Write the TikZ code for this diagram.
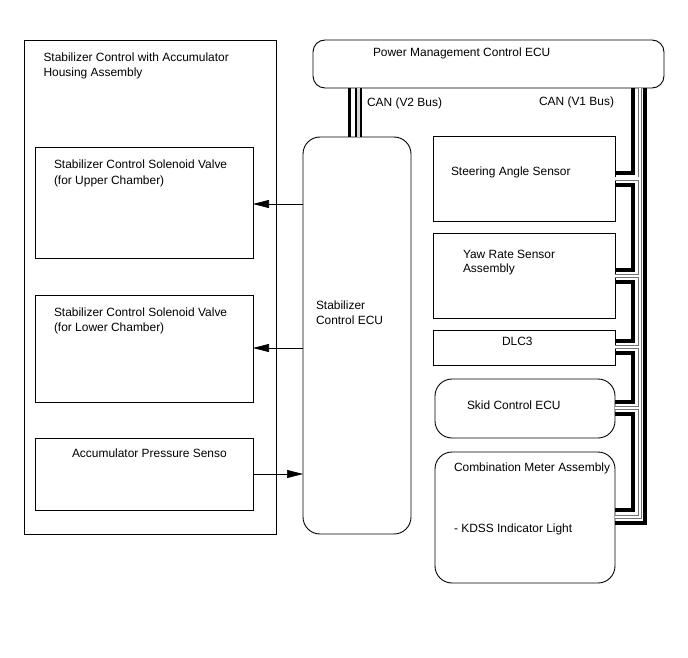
\documentclass[tikz,border=0pt]{standalone}
\usepackage{fontspec}
\setmainfont{Liberation Sans}
\usetikzlibrary{arrows.meta}
\begin{document}
\begin{tikzpicture}[x=1pt,y=-1pt,
 box/.style={draw, line width=0.9pt, outer sep=0pt, inner sep=0pt, anchor=north west},
 rbox/.style={box, rounded corners=17pt},
 lbl/.style={anchor=base west, inner sep=0pt, outer sep=0pt, font=\fontsize{11.95}{15}\selectfont},
 sig/.style={line width=0.7pt, -{Triangle[length=16pt,width=8pt]}},
 blk/.style={line width=3.5pt},
 gborder/.style={draw=black!55, line width=4pt},
 gcore/.style={draw=white, line width=2.4pt},
]
\useasboundingbox (0,0) rectangle (688,658);

% boxes
\node[box, minimum width=252pt, minimum height=494pt] (big) at (24,40) {};
\node[box, minimum width=218pt, minimum height=111pt] (sv1) at (35,147) {};
\node[box, minimum width=218pt, minimum height=107pt] (sv2) at (35,295) {};
\node[box, minimum width=218pt, minimum height=72pt] (aps) at (35,438) {};
\node[rbox, minimum width=108pt, minimum height=397pt] (ecu) at (303,137) {};
\node[box, rounded corners=12pt, minimum width=351pt, minimum height=48pt] (pm) at (313,40) {};
\node[box, minimum width=182pt, minimum height=85pt] (sas) at (433,136) {};
\node[box, minimum width=182pt, minimum height=85pt] (yaw) at (433,233) {};
\node[box, minimum width=182pt, minimum height=35pt] (dlc) at (433,330) {};
\node[rbox, minimum width=180pt, minimum height=59pt] (skid) at (435,379) {};
\node[rbox, minimum width=180pt, minimum height=131pt] (comb) at (435,452) {};

% labels
\node[lbl] (tbig1) at (43.5,61.5) {Stabilizer Control with Accumulator};
\node[lbl] (tbig2) at (43.5,76.5) {Housing Assembly};
\node[lbl] (tsv1a) at (54,168.5) {Stabilizer Control Solenoid Valve};
\node[lbl] (tsv1b) at (54,184) {(for Upper Chamber)};
\node[lbl] (tsv2a) at (54,316) {Stabilizer Control Solenoid Valve};
\node[lbl] (tsv2b) at (54,331.5) {(for Lower Chamber)};
\node[lbl] (taps) at (72,457) {Accumulator Pressure Senso};
\node[lbl] (tecu1) at (316,309) {Stabilizer};
\node[lbl] (tecu2) at (316,324) {Control ECU};
\node[lbl] (tpm) at (373,56.5) {Power Management Control ECU};
\node[lbl] (tv2) at (367,107) {CAN (V2 Bus)};
\node[lbl] (tv1) at (539,105.5) {CAN (V1 Bus)};
\node[lbl] (tsas) at (451,175.5) {Steering Angle Sensor};
\node[lbl] (tyaw1) at (463,258) {Yaw Rate Sensor};
\node[lbl] (tyaw2) at (463,272.5) {Assembly};
\node[lbl] (tdlc) at (502,345) {DLC3};
\node[lbl] (tskid) at (467,409.5) {Skid Control ECU};
\node[lbl] (tcomb1) at (454,471.5) {Combination Meter Assembly};
\node[lbl] (tcomb2) at (454,532) {- KDSS Indicator Light};

% signal arrows
\draw[sig] (ecu.west |- 0,204) -- (sv1.east |- 0,204);
\draw[sig] (ecu.west |- 0,348) -- (sv2.east |- 0,348);
\draw[sig] (aps.east |- 0,474) -- (ecu.west |- 0,474);

% CAN V2
\coordinate (v2a) at (349.5,0);
\coordinate (v2b) at (358.5,0);
\draw[blk] (pm.south -| v2a) -- (ecu.north -| v2a);
\draw[draw=black, line width=6.5pt] (pm.south -| v2b) -- (ecu.north -| v2b);
\draw[draw=gray!30, line width=3.5pt] (pm.south -| v2b) -- (ecu.north -| v2b);

% CAN V1
\coordinate (ra) at (633,0);
\coordinate (rg) at (640,0);
\coordinate (rb) at (645,0);
% gray double bus
\draw[gborder] (pm.south -| rg) |- (comb.east |- 0,517);
\draw[gborder] (sas.east |- 0,178.5) -- (rg |- 0,178.5);
\draw[gborder] (yaw.east |- 0,276) -- (rg |- 0,276);
\draw[gborder] (dlc.east |- 0,347) -- (rg |- 0,347);
\draw[gborder] (skid.east |- 0,408) -- (rg |- 0,408);
\draw[gcore] (pm.south -| rg) |- (comb.east |- 0,517);
\draw[gcore] (sas.east |- 0,178.5) -- (rg |- 0,178.5);
\draw[gcore] (yaw.east |- 0,276) -- (rg |- 0,276);
\draw[gcore] (dlc.east |- 0,347) -- (rg |- 0,347);
\draw[gcore] (skid.east |- 0,408) -- (rg |- 0,408);
% black daisy chain
\draw[blk] (pm.south -| ra) |- (sas.east |- 0,173);
\draw[blk] (sas.east |- 0,185) -| (ra |- 0,270) -- (yaw.east |- 0,270);
\draw[blk] (yaw.east |- 0,282) -| (ra |- 0,341) -- (dlc.east |- 0,341);
\draw[blk] (dlc.east |- 0,353) -| (ra |- 0,402) -- (skid.east |- 0,402);
\draw[blk] (skid.east |- 0,414) -| (ra |- 0,510) -- (comb.east |- 0,510);
% black trunk
\draw[blk] (pm.south -| rb) |- (comb.east |- 0,523);
\end{tikzpicture}
\end{document}
